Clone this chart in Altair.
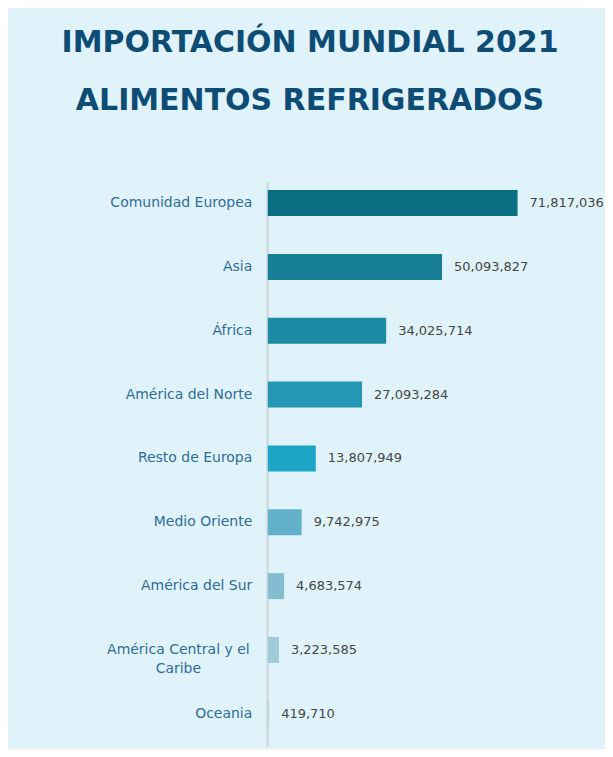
import altair as alt
import pandas as pd

categories = [
    "Comunidad Europea",
    "Asia",
    "África",
    "América del Norte",
    "Resto de Europa",
    "Medio Oriente",
    "América del Sur",
    "América Central y el Caribe",
    "Oceania",
]
values = [71817036, 50093827, 34025714, 27093284, 13807949, 9742975, 4683574, 3223585, 419710]
colors = ["#0a6e83", "#167e95", "#1d8ba4", "#2397b3", "#1ea5c7",
          "#62b0c9", "#84bcd0", "#a0c9da", "#c0d3da"]

title_lines = ["IMPORTACIÓN MUNDIAL  2021", "ALIMENTOS REFRIGERADOS"]

df = pd.DataFrame({"region": categories, "value": values, "color": colors})

multi = "América Central y el Caribe"

y = alt.Y(
    "region:N",
    sort=categories,
    scale=alt.Scale(paddingInner=0.593, paddingOuter=0.2965),
    axis=alt.Axis(
        title=None,
        domain=False,
        ticks=False,
        labelFont="DejaVu Sans",
        labelFontSize=14,
        labelColor="#2f6d97",
        labelLineHeight=19,
        labelBaseline="middle",
        labelLimit=300,
        labelExpr="datum.label == 'América Central y el Caribe' ? ['América Central y el', 'Caribe'] : datum.label",
        labelAlign={"condition": {"test": "datum.value == '" + multi + "'", "value": "center"}, "value": "right"},
        labelPadding={"condition": {"test": "datum.value == '" + multi + "'", "value": 90}, "value": 16},
    ),
)

x = alt.X(
    "value:Q",
    scale=alt.Scale(domain=[0, 80000000], nice=False, zero=True),
    axis=None,
)

base = alt.Chart(df)

bars = base.mark_bar().encode(
    x=x,
    y=y,
    color=alt.Color("color:N", scale=None, legend=None),
)

labels = base.mark_text(
    align="left", baseline="middle", dx=12,
    font="DejaVu Sans", fontSize=13, color="#454545",
).encode(
    x=x,
    y=y,
    text=alt.Text("value:Q", format=",d"),
)

axis_line = base.mark_rule(color="#d0dde2", strokeWidth=2).encode(
    x=alt.value(0),
    y=alt.value(11),
    y2=alt.value(576),
)

chart = alt.layer(axis_line, bars, labels).properties(
    width=278.5,
    height=575,
    title=alt.TitleParams(
        text=title_lines,
        font="DejaVu Sans",
        fontSize=30,
        fontWeight="bold",
        color="#0d4c75",
        anchor="middle",
        dx=-97,
        offset=55,
        lineHeight=58,
    ),
    autosize=alt.AutoSizeParams(type="none"),
    padding={"left": 260, "top": 163, "right": 59, "bottom": 3},
    background="#e0f3fb",
).configure_view(stroke=None)

chart.save("out.html", embed_options={"renderer": "svg", "actions": False})
